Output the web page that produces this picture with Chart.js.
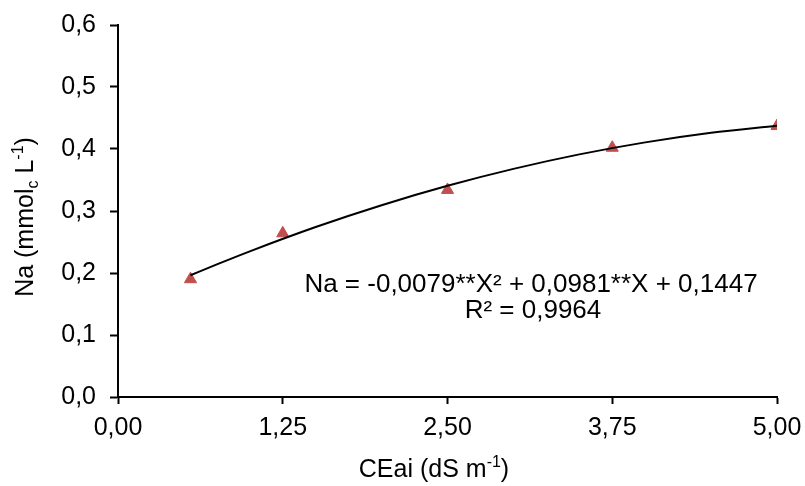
<!DOCTYPE html>
<html>
<head>
<meta charset="utf-8">
<script src="https://cdn.jsdelivr.net/npm/chart.js@4/dist/chart.umd.min.js"></script>
<style>
html,body{margin:0;padding:0;background:#fff;}
#wrap{width:805px;height:486px;position:relative;}
</style>
</head>
<body>
<div id="wrap"><canvas id="c" width="805" height="486"></canvas></div>
<script>
// Observed data (CEai in dS m-1, Na in mmolc L-1)
const ceai = [0.55, 1.25, 2.50, 3.75, 5.00];
const naValues = [0.190, 0.264, 0.334, 0.402, 0.437];
// Trendline sample points
const trendX = [0.55, 0.75, 1.0, 1.5, 2.0, 2.5, 3.0, 3.5, 4.0, 4.5, 5.0];
const trendY = [0.1963, 0.2138, 0.2349, 0.2741, 0.3093, 0.3406, 0.3679, 0.3913, 0.4107, 0.4262, 0.4377];
const xTicks = [0, 1.25, 2.5, 3.75, 5];
const yTicks = [0, 0.1, 0.2, 0.3, 0.4, 0.5, 0.6];
const equationLine1 = 'Na = -0,0079**X² + 0,0981**X + 0,1447';
const equationLine2 = 'R² = 0,9964';

const FONT = "'Liberation Sans', Arial, sans-serif";
const comma = (v, d) => v.toFixed(d).replace('.', ',');

function drawRich(ctx, parts, cx, baseline) {
  let total = 0;
  parts.forEach(p => { ctx.font = p.size + 'px ' + FONT; p.w = ctx.measureText(p.t).width; total += p.w; });
  let x = cx - total / 2;
  ctx.textAlign = 'left';
  ctx.textBaseline = 'alphabetic';
  parts.forEach(p => { ctx.font = p.size + 'px ' + FONT; ctx.fillText(p.t, x, baseline + (p.dy || 0)); x += p.w; });
}

const textPlugin = {
  id: 'texts',
  afterDraw(chart) {
    const ctx = chart.ctx;
    ctx.save();
    ctx.fillStyle = '#000';
    // equation
    ctx.font = '26px ' + FONT;
    ctx.textAlign = 'center';
    ctx.textBaseline = 'alphabetic';
    ctx.fillText(equationLine1, 531, 292);
    ctx.fillText(equationLine2, 533, 318);
    // x title
    drawRich(ctx, [
      {t: 'CEai (dS m', size: 25},
      {t: '-1', size: 16, dy: -10},
      {t: ')', size: 25}
    ], 434, 477);
    // y title
    ctx.translate(33, 217);
    ctx.rotate(-Math.PI / 2);
    drawRich(ctx, [
      {t: 'Na (mmol', size: 25},
      {t: 'c', size: 16, dy: 5},
      {t: ' L', size: 25},
      {t: '-1', size: 16, dy: -10},
      {t: ')', size: 25}
    ], 0, 0);
    ctx.restore();
  }
};

new Chart(document.getElementById('c'), {
  type: 'scatter',
  data: {
    datasets: [
      {
        label: 'Tendência',
        data: trendX.map((x, i) => ({x: x, y: trendY[i]})),
        showLine: true,
        borderColor: '#000',
        borderWidth: 2,
        pointRadius: 0,
        cubicInterpolationMode: 'monotone',
        fill: false
      },
      {
        label: 'Na',
        data: ceai.map((x, i) => ({x: x, y: naValues[i]})),
        pointStyle: 'triangle',
        pointRadius: 7,
        backgroundColor: '#C0504D',
        borderColor: '#C0504D',
        borderWidth: 1,
        showLine: false
      }
    ]
  },
  options: {
    responsive: false,
    animation: false,
    events: [],
    layout: {padding: {top: 25, right: 28, left: 0, bottom: 0}},
    plugins: {legend: {display: false}, tooltip: {enabled: false}},
    scales: {
      x: {
        type: 'linear', min: 0, max: 5,
        afterBuildTicks: s => { s.ticks = xTicks.map(v => ({value: v})); },
        afterFit: s => { s.height = 89; s.paddingLeft = 0; s.paddingRight = 0; },
        border: {display: true, color: '#000', width: 2},
        grid: {drawOnChartArea: false, drawTicks: true, tickLength: 7, tickWidth: 2, tickColor: '#000'},
        ticks: {color: '#000', font: {family: FONT, size: 25}, padding: 9, maxRotation: 0, callback: v => comma(v, 2)}
      },
      y: {
        type: 'linear', min: 0, max: 0.6,
        afterBuildTicks: s => { s.ticks = yTicks.map(v => ({value: v})); },
        afterFit: s => { s.width = 118; s.paddingTop = 0; s.paddingBottom = 0; },
        border: {display: true, color: '#000', width: 2},
        grid: {drawOnChartArea: false, drawTicks: true, tickLength: 8, tickWidth: 2, tickColor: '#000'},
        ticks: {color: '#000', font: {family: FONT, size: 25}, padding: 14, callback: v => comma(v, 1)}
      }
    }
  },
  plugins: [textPlugin]
});
</script>
</body>
</html>
